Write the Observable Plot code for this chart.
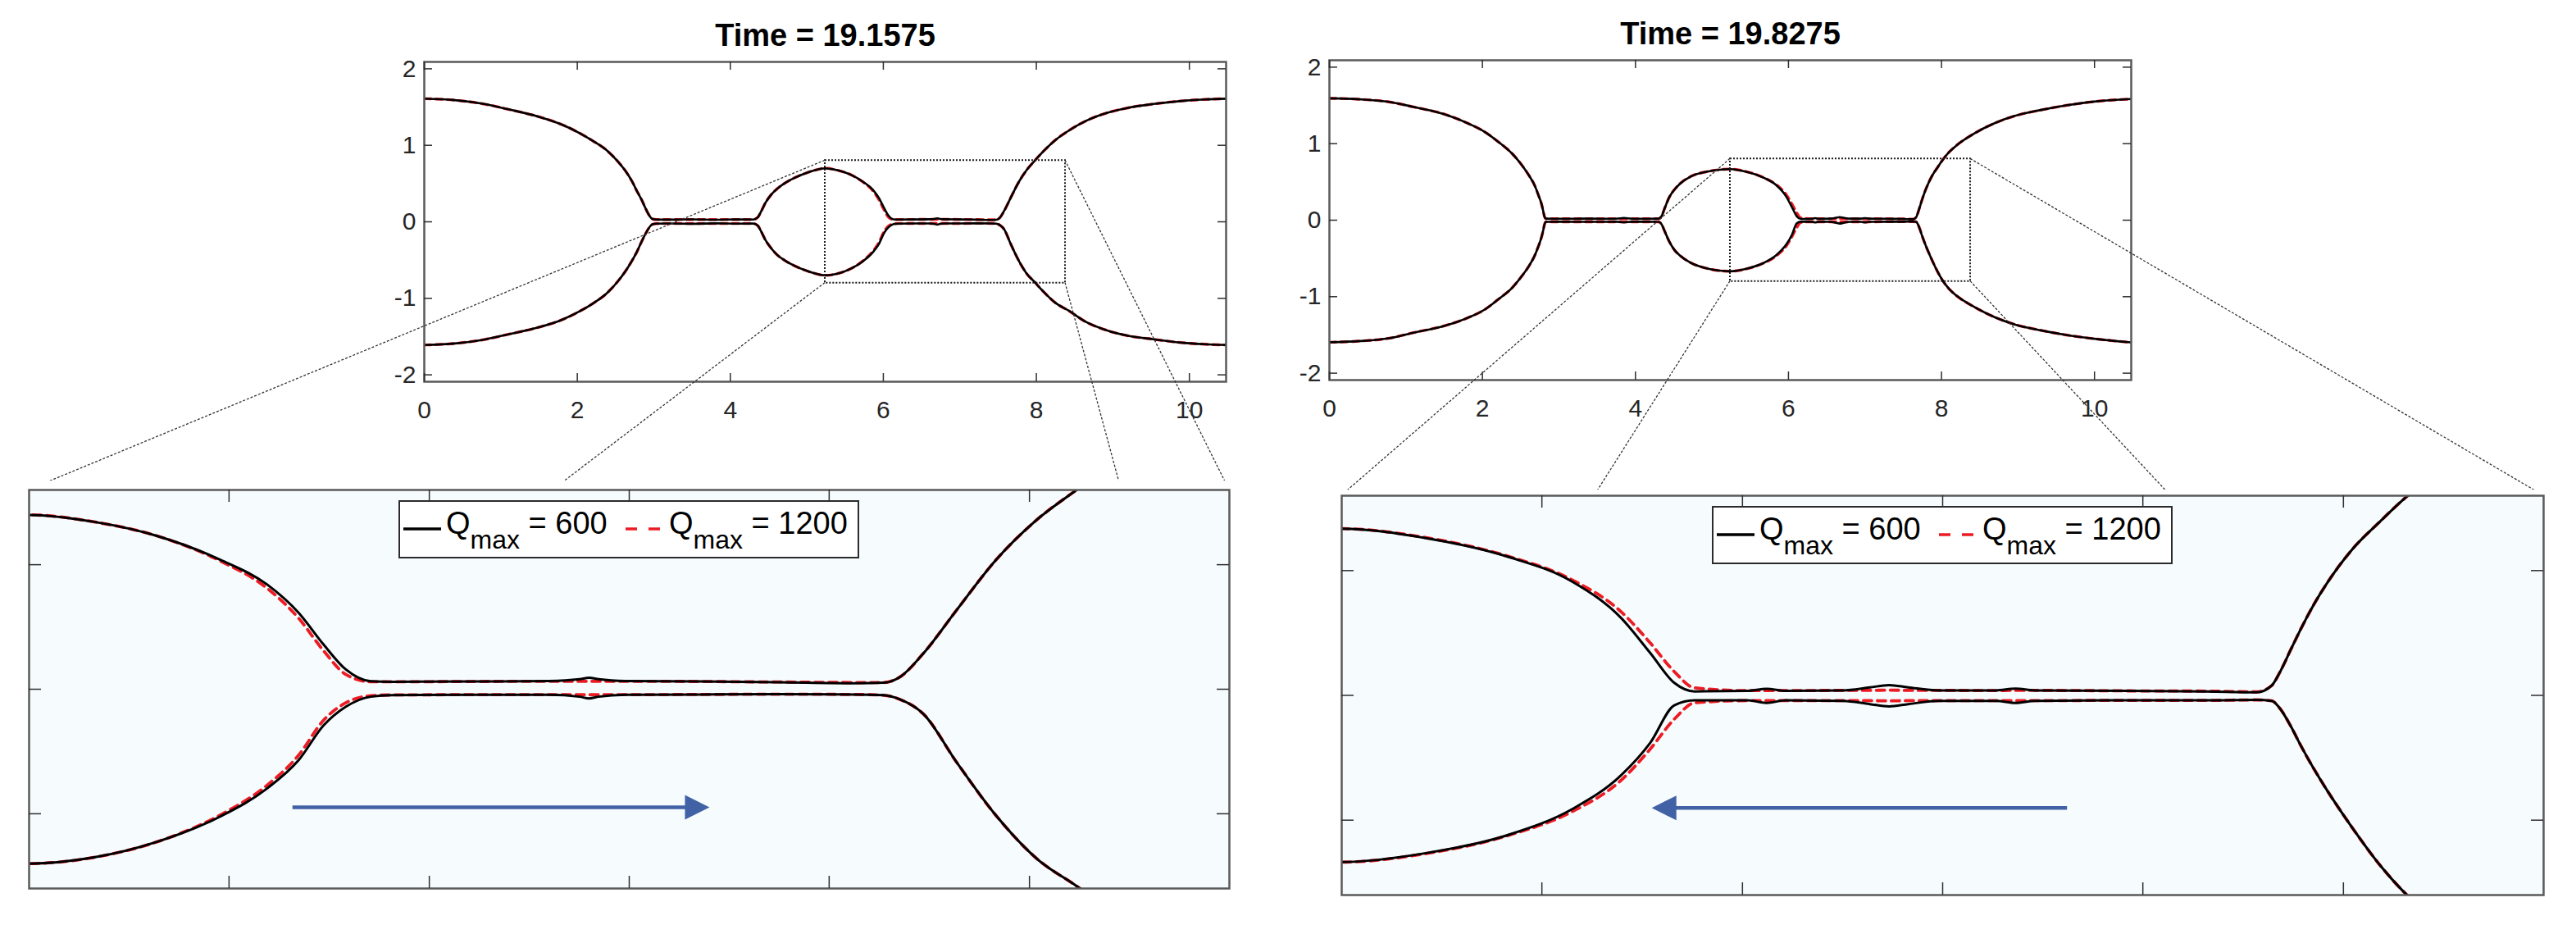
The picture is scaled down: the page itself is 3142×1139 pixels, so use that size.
<!DOCTYPE html>
<html>
<head>
<meta charset="utf-8">
<script src="https://cdn.jsdelivr.net/npm/d3@7"></script>
<script src="https://cdn.jsdelivr.net/npm/@observablehq/plot@0.6"></script>
<style>
html, body { margin: 0; padding: 0; background: #fff; }
#fig { position: relative; width: 3142px; height: 1139px; overflow: hidden; background: #fff; }
</style>
</head>
<body>
<div id="fig"></div>
<script>
// ---------------- DATA ----------------
const titles = ["Time = 19.1575", "Time = 19.8275"];
const legendLabels = ["600", "1200"];

const topXTicks = [0, 2, 4, 6, 8, 10];
const topYTicks = [-2, -1, 0, 1, 2];
const topXDomain = [0, 10.48];
const topYDomain = [-2.09, 2.09];

// zoom window (dotted box in the top panels = limits of the bottom panels)
const zoomX = [5.24, 8.38];
const zoomY = [-0.8, 0.8];
const zoomXTicks = [5.763, 6.287, 6.81, 7.333, 7.857];
const zoomYTicks = [-0.5, 0, 0.5];

// Time = 19.1575
const t1x = [0, 0.4, 0.78, 1.1, 1.49, 1.8, 2.03, 2.2, 2.39, 2.52,
  2.64, 2.72, 2.78, 2.84, 2.89, 2.93, 2.96, 2.99, 3.03, 3.2,
  3.5, 3.8, 4.1, 4.3, 4.36, 4.4, 4.46, 4.53, 4.61, 4.72,
  4.85, 4.97, 5.09, 5.24, 5.41, 5.576, 5.74, 5.863, 5.945, 6.01,
  6.068, 6.134, 6.19, 6.4, 6.6, 6.68, 6.705, 6.73, 6.8, 7.0,
  7.2, 7.4, 7.475, 7.517, 7.58, 7.665, 7.77, 7.876, 7.98, 8.09,
  8.25, 8.42, 8.65, 8.91, 9.2, 9.53, 9.9, 10.2, 10.5];
const t1Up600 = [1.61, 1.59, 1.54, 1.47, 1.375, 1.27, 1.16, 1.06, 0.93, 0.80,
  0.65, 0.52, 0.40, 0.29, 0.18, 0.10, 0.055, 0.035, 0.03, 0.028,
  0.032, 0.027, 0.031, 0.03, 0.06, 0.13, 0.25, 0.35, 0.43, 0.51,
  0.58, 0.63, 0.67, 0.70, 0.672, 0.615, 0.52, 0.42, 0.307, 0.18,
  0.08, 0.032, 0.03, 0.031, 0.033, 0.04, 0.046, 0.04, 0.033, 0.031,
  0.028, 0.024, 0.026, 0.048, 0.145, 0.315, 0.52, 0.68, 0.80, 0.92,
  1.07, 1.19, 1.32, 1.42, 1.49, 1.54, 1.58, 1.60, 1.61];
const t1Lo600 = [-1.61, -1.59, -1.54, -1.47, -1.38, -1.28, -1.17, -1.07, -0.93, -0.79,
  -0.63, -0.50, -0.39, -0.26, -0.16, -0.09, -0.05, -0.03, -0.024, -0.022,
  -0.025, -0.02, -0.024, -0.023, -0.05, -0.12, -0.24, -0.34, -0.43, -0.51,
  -0.58, -0.63, -0.67, -0.70, -0.675, -0.612, -0.511, -0.398, -0.285, -0.146,
  -0.071, -0.03, -0.024, -0.022, -0.022, -0.03, -0.037, -0.03, -0.022, -0.021,
  -0.02, -0.021, -0.024, -0.04, -0.10, -0.29, -0.508, -0.68, -0.79, -0.91,
  -1.06, -1.16, -1.31, -1.415, -1.49, -1.535, -1.58, -1.60, -1.61];
const t1Up1200 = [1.61, 1.59, 1.54, 1.47, 1.375, 1.27, 1.16, 1.06, 0.93, 0.80,
  0.65, 0.52, 0.40, 0.29, 0.18, 0.10, 0.055, 0.035, 0.03, 0.03,
  0.03, 0.03, 0.03, 0.03, 0.06, 0.13, 0.25, 0.35, 0.43, 0.51,
  0.58, 0.63, 0.67, 0.70, 0.672, 0.615, 0.515, 0.405, 0.285, 0.155,
  0.06, 0.03, 0.03, 0.031, 0.032, 0.032, 0.032, 0.032, 0.032, 0.031,
  0.029, 0.027, 0.027, 0.048, 0.145, 0.315, 0.52, 0.68, 0.80, 0.92,
  1.07, 1.19, 1.32, 1.42, 1.49, 1.54, 1.58, 1.60, 1.61];
const t1Lo1200 = [-1.61, -1.59, -1.54, -1.47, -1.38, -1.28, -1.17, -1.07, -0.93, -0.79,
  -0.63, -0.50, -0.39, -0.26, -0.16, -0.09, -0.05, -0.03, -0.024, -0.023,
  -0.023, -0.023, -0.023, -0.023, -0.05, -0.12, -0.24, -0.34, -0.43, -0.51,
  -0.58, -0.63, -0.67, -0.70, -0.675, -0.612, -0.505, -0.385, -0.265, -0.125,
  -0.055, -0.026, -0.023, -0.022, -0.022, -0.022, -0.022, -0.022, -0.022, -0.021,
  -0.02, -0.021, -0.024, -0.04, -0.10, -0.29, -0.508, -0.68, -0.79, -0.91,
  -1.06, -1.16, -1.31, -1.415, -1.49, -1.535, -1.58, -1.60, -1.61];

// Time = 19.8275
const t2x = [0, 0.4, 0.78, 1.1, 1.5, 1.8, 2.03, 2.2, 2.39, 2.5,
  2.61, 2.68, 2.73, 2.77, 2.795, 2.81, 2.83, 3.0, 3.4, 3.75,
  3.85, 3.95, 4.1, 4.3, 4.34, 4.38, 4.44, 4.51, 4.58, 4.72,
  4.94, 5.1, 5.237, 5.46, 5.673, 5.843, 5.97, 6.046, 6.109, 6.162,
  6.3, 6.35, 6.4, 6.55, 6.62, 6.67, 6.72, 6.8, 6.95, 7.0,
  7.05, 7.3, 7.5, 7.63, 7.67, 7.69, 7.72, 7.747, 7.78, 7.81,
  7.88, 7.955, 8.01, 8.1, 8.2, 8.44, 8.7, 8.95, 9.3, 9.63,
  10.0, 10.5];
const t2Up600 = [1.593, 1.58, 1.546, 1.48, 1.386, 1.27, 1.154, 1.03, 0.868, 0.74,
  0.582, 0.46, 0.332, 0.22, 0.118, 0.05, 0.02, 0.018, 0.02, 0.019,
  0.028, 0.019, 0.018, 0.02, 0.05, 0.15, 0.296, 0.40, 0.475, 0.57,
  0.636, 0.66, 0.668, 0.63, 0.556, 0.455, 0.31, 0.17, 0.05, 0.016,
  0.018, 0.026, 0.018, 0.02, 0.032, 0.041, 0.032, 0.02, 0.02, 0.027,
  0.02, 0.018, 0.016, 0.012, 0.04, 0.09, 0.185, 0.27, 0.365, 0.44,
  0.585, 0.70, 0.78, 0.89, 0.98, 1.14, 1.27, 1.36, 1.44, 1.50,
  1.55, 1.585];
const t2Lo600 = [-1.596, -1.58, -1.543, -1.47, -1.382, -1.28, -1.168, -1.04, -0.882, -0.75,
  -0.596, -0.47, -0.346, -0.23, -0.132, -0.06, -0.022, -0.02, -0.022, -0.02,
  -0.03, -0.02, -0.02, -0.022, -0.05, -0.14, -0.275, -0.39, -0.46, -0.555,
  -0.632, -0.66, -0.668, -0.632, -0.56, -0.455, -0.32, -0.19, -0.04, -0.02,
  -0.02, -0.03, -0.02, -0.022, -0.035, -0.044, -0.035, -0.022, -0.022, -0.03,
  -0.022, -0.02, -0.02, -0.018, -0.022, -0.05, -0.125, -0.205, -0.295, -0.37,
  -0.53, -0.685, -0.78, -0.90, -0.99, -1.14, -1.27, -1.36, -1.44, -1.50,
  -1.55, -1.60];
const t2Up1200 = [1.593, 1.58, 1.546, 1.48, 1.386, 1.27, 1.154, 1.03, 0.868, 0.74,
  0.582, 0.46, 0.332, 0.22, 0.118, 0.05, 0.02, 0.019, 0.019, 0.02,
  0.02, 0.02, 0.019, 0.02, 0.05, 0.15, 0.296, 0.40, 0.475, 0.57,
  0.636, 0.66, 0.668, 0.632, 0.558, 0.462, 0.335, 0.21, 0.095, 0.03,
  0.019, 0.019, 0.019, 0.02, 0.02, 0.021, 0.02, 0.02, 0.019, 0.02,
  0.02, 0.018, 0.017, 0.014, 0.04, 0.09, 0.185, 0.27, 0.365, 0.44,
  0.585, 0.70, 0.78, 0.89, 0.98, 1.14, 1.27, 1.36, 1.44, 1.50,
  1.55, 1.585];
const t2Lo1200 = [-1.596, -1.58, -1.543, -1.47, -1.382, -1.28, -1.168, -1.04, -0.882, -0.75,
  -0.596, -0.47, -0.346, -0.23, -0.132, -0.06, -0.022, -0.021, -0.021, -0.021,
  -0.021, -0.021, -0.021, -0.022, -0.05, -0.14, -0.275, -0.39, -0.46, -0.555,
  -0.632, -0.66, -0.668, -0.634, -0.562, -0.465, -0.34, -0.215, -0.095, -0.03,
  -0.021, -0.021, -0.021, -0.021, -0.021, -0.022, -0.021, -0.021, -0.021, -0.021,
  -0.021, -0.02, -0.02, -0.018, -0.022, -0.05, -0.125, -0.205, -0.295, -0.37,
  -0.53, -0.685, -0.78, -0.90, -0.99, -1.14, -1.27, -1.36, -1.44, -1.50,
  -1.55, -1.60];

// flow-direction arrows in the zoomed panels (data coordinates)
const arrowTail = [5.93, 7.136];
const arrowTip = [7.02, 6.05];
const arrowY = [-0.474, -0.451];

// ---------------- STYLE ----------------
const FONT = '"Liberation Sans", Arial, Helvetica, sans-serif';
const RED = "#ec1c24", BLUE = "#4262a6", FRAME = "#5a5a5a", TICK = "#2e2e2e", PANEL_BG = "#f6fbfd";

const fig = document.getElementById("fig");
function place(el, left, top, z) {
  el.style.position = "absolute";
  el.style.left = left + "px";
  el.style.top = top + "px";
  el.style.zIndex = z;
  el.style.maxWidth = "none";
  fig.appendChild(el);
  return el;
}

function rows(xs, ys) { return xs.map((x, i) => ({x, y: ys[i]})); }

function curveMarks(xs, s, w, clip) {
  const red = {x: "x", y: "y", stroke: RED, strokeWidth: w.red, strokeDasharray: w.dash, curve: "monotone-x", clip};
  const blk = {x: "x", y: "y", stroke: "#000", strokeWidth: w.black, curve: "monotone-x", clip};
  return [
    Plot.line(rows(xs, s.up1200), red),
    Plot.line(rows(xs, s.lo1200), red),
    Plot.line(rows(xs, s.up600), blk),
    Plot.line(rows(xs, s.lo600), blk)
  ];
}

function tickMarks(xt, yt, W, H, T) {
  const o = {stroke: TICK, strokeWidth: 1.5};
  return [
    Plot.ruleX(xt, {...o, insetTop: H - T}),
    Plot.ruleX(xt, {...o, insetBottom: H - T}),
    Plot.ruleY(yt, {...o, insetRight: W - T}),
    Plot.ruleY(yt, {...o, insetLeft: W - T})
  ];
}

const zoomBox = [{x1: zoomX[0], x2: zoomX[1], y1: zoomY[0], y2: zoomY[1]}];

function topPanel(title, xs, s, mt) {
  const W = 978, H = 390, ML = 100, MR = 20, MB = 55;
  return Plot.plot({
    width: ML + W + MR, height: mt + H + MB,
    marginLeft: ML, marginRight: MR, marginTop: mt, marginBottom: MB,
    x: {domain: topXDomain, label: null},
    y: {domain: topYDomain, label: null},
    style: {fontFamily: FONT, fontSize: "30px", color: "#262626", background: "transparent", overflow: "visible"},
    marks: [
      ...curveMarks(xs, s, {red: 3.4, black: 2.6, dash: "8,6"}, true),
      Plot.rect(zoomBox, {x1: "x1", x2: "x2", y1: "y1", y2: "y2", fill: "none", stroke: "#1a1a1a", strokeWidth: 2, strokeDasharray: "2,2"}),
      Plot.frame({stroke: FRAME, strokeWidth: 2.5}),
      ...tickMarks(topXTicks, topYTicks, W, H, 10),
      Plot.axisX(topXTicks, {anchor: "bottom", tickSize: 0, tickPadding: 23, tickFormat: d => String(d), fontSize: 30, fill: "#262626", label: null}),
      Plot.axisY(topYTicks, {anchor: "left", tickSize: 0, tickPadding: 10, tickFormat: d => String(d), fontSize: 30, fill: "#262626", label: null}),
      Plot.text([title], {text: d => d, frameAnchor: "top", dy: -20, lineAnchor: "bottom", fontSize: 38, fontWeight: "bold", fill: "#000"})
    ]
  });
}

const headRight = {draw(ctx, size) { const L = Math.sqrt(size); ctx.moveTo(0, 0); ctx.lineTo(-L, -L / 2); ctx.lineTo(-L, L / 2); ctx.closePath(); }};
const headLeft = {draw(ctx, size) { const L = Math.sqrt(size); ctx.moveTo(0, 0); ctx.lineTo(L, -L / 2); ctx.lineTo(L, L / 2); ctx.closePath(); }};

function bottomPanel(xs, s, k, W, H, mt) {
  const a = [{tail: arrowTail[k], tip: arrowTip[k], y: arrowY[k]}];
  const right = arrowTip[k] > arrowTail[k];
  return Plot.plot({
    width: 10 + W + 10, height: mt + H + 20,
    marginLeft: 10, marginRight: 10, marginTop: mt, marginBottom: 20,
    x: {domain: zoomX, axis: null},
    y: {domain: zoomY, axis: null},
    style: {fontFamily: FONT, background: "white", overflow: "visible"},
    marks: [
      Plot.frame({fill: PANEL_BG, stroke: "none"}),
      ...curveMarks(xs, s, {red: 3.8, black: 3, dash: "10,7"}, true),
      Plot.ruleY(a, {y: "y", x1: d => Math.min(d.tail, d.tip), x2: d => Math.max(d.tail, d.tip),
        insetRight: right ? 20 : 0, insetLeft: right ? 0 : 20, stroke: BLUE, strokeWidth: 4.5}),
      Plot.dot(a, {x: "tip", y: "y", symbol: right ? headRight : headLeft, r: 30 / Math.sqrt(Math.PI), fill: BLUE, stroke: "none"}),
      Plot.frame({stroke: FRAME, strokeWidth: 2.5}),
      ...tickMarks(zoomXTicks, zoomYTicks, W, H, 15)
    ]
  });
}

function legend(bot, pos) {
  const bx = bot.scale("x"), by = bot.scale("y");
  const Wl = 562, Hl = 71;
  const cx = pos[0] + (bx.apply(zoomX[0]) + bx.apply(zoomX[1])) / 2;
  const top = pos[1] + by.apply(zoomY[1]) + 13;
  const svg = d3.create("svg").attr("width", Wl).attr("height", Hl).style("font-family", FONT);
  svg.append("rect").attr("x", 1).attr("y", 1).attr("width", Wl - 2).attr("height", Hl - 2)
    .attr("fill", "#fff").attr("stroke", "#2b2b2b").attr("stroke-width", 2);
  const items = [{x0: 6, x1: 52, tx: 58, color: "#000", dash: null, w: 3.5},
                 {x0: 277, x1: 319, tx: 330, color: RED, dash: "14,14", w: 3.5}];
  items.forEach((it, i) => {
    const ln = svg.append("line").attr("x1", it.x0).attr("x2", it.x1).attr("y1", 35).attr("y2", 35)
      .attr("stroke", it.color).attr("stroke-width", it.w);
    if (it.dash) ln.attr("stroke-dasharray", it.dash);
    const t = svg.append("text").attr("x", it.tx).attr("y", 41).attr("font-size", 38).attr("fill", "#000");
    t.append("tspan").text("Q");
    t.append("tspan").attr("dy", 18).attr("font-size", 32).text("max");
    t.append("tspan").attr("dy", -18).attr("font-size", 38).text(" = " + legendLabels[i]);
  });
  place(svg.node(), Math.round(cx - Wl / 2), Math.round(top), 4);
}

// ---------------- BUILD ----------------
const S1 = {up600: t1Up600, lo600: t1Lo600, up1200: t1Up1200, lo1200: t1Lo1200};
const S2 = {up600: t2Up600, lo600: t2Lo600, up1200: t2Up1200, lo1200: t2Lo1200};

const topPos = [[417, 0], [1521, 0]];
const botPos = [[25, 586], [1626, 597]];

const top1 = place(topPanel(titles[0], t1x, S1, 75), topPos[0][0], topPos[0][1], 1);
const top2 = place(topPanel(titles[1], t2x, S2, 73), topPos[1][0], topPos[1][1], 1);
const bot1 = place(bottomPanel(t1x, S1, 0, 1464, 486, 11), botPos[0][0], botPos[0][1], 3);
const bot2 = place(bottomPanel(t2x, S2, 1, 1466, 487, 7), botPos[1][0], botPos[1][1], 3);

// connector lines from the dotted box corners to the zoomed panel corners
const overlay = d3.create("svg").attr("width", 3142).attr("height", 1139);
function connectors(top, tp, bot, bp) {
  const tx = top.scale("x"), ty = top.scale("y"), bx = bot.scale("x"), by = bot.scale("y");
  const corners = [[zoomX[0], zoomY[1]], [zoomX[0], zoomY[0]], [zoomX[1], zoomY[1]], [zoomX[1], zoomY[0]]];
  corners.forEach(([x, y]) => {
    overlay.append("line")
      .attr("x1", tp[0] + tx.apply(x)).attr("y1", tp[1] + ty.apply(y))
      .attr("x2", bp[0] + bx.apply(x)).attr("y2", bp[1] + by.apply(y))
      .attr("stroke", "#333").attr("stroke-width", 1.3).attr("stroke-dasharray", "3,2");
  });
}
connectors(top1, topPos[0], bot1, botPos[0]);
connectors(top2, topPos[1], bot2, botPos[1]);
place(overlay.node(), 0, 0, 2);

legend(bot1, botPos[0]);
legend(bot2, botPos[1]);
</script>
</body>
</html>
